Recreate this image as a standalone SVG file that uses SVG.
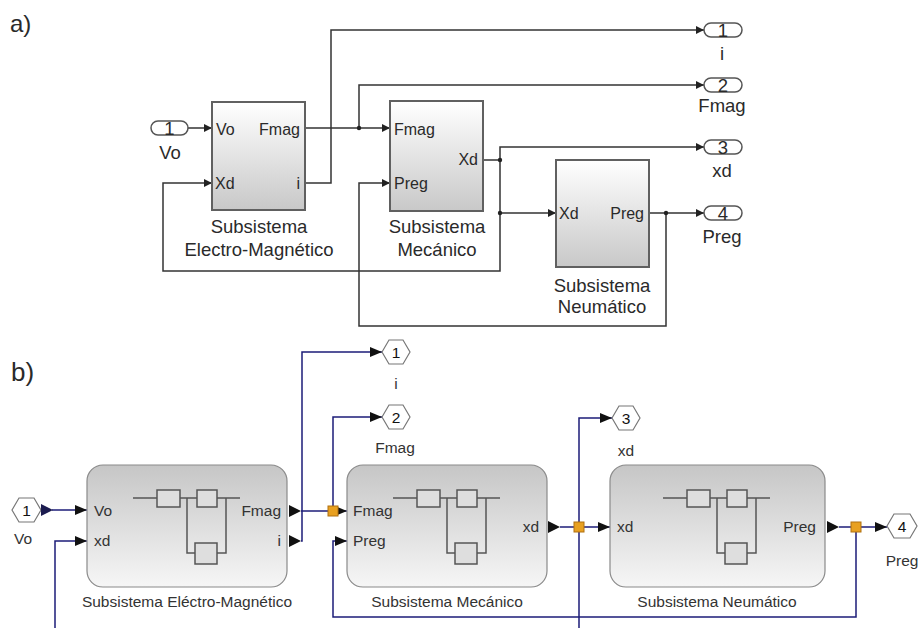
<svg xmlns="http://www.w3.org/2000/svg" width="919" height="628" viewBox="0 0 919 628">
<defs>
<linearGradient id="gA" x1="0" y1="0" x2="0" y2="1"><stop offset="0" stop-color="#ffffff"/><stop offset="1" stop-color="#c8c8c8"/></linearGradient>
<linearGradient id="gB" x1="0" y1="0" x2="0" y2="1"><stop offset="0" stop-color="#c6c6c6"/><stop offset="1" stop-color="#f6f6f6"/></linearGradient>
<marker id="ma" markerWidth="8" markerHeight="8" refX="8" refY="4" orient="auto" markerUnits="userSpaceOnUse"><path d="M0,0 L8,4 L0,8 Z" fill="#222"/></marker>
<marker id="mb" markerWidth="12" markerHeight="10" refX="12" refY="5" orient="auto" markerUnits="userSpaceOnUse"><path d="M0,0 L12,5 L0,10 Z" fill="#111"/></marker>
<g id="icon">
<path d="M-54,0 H53 M0,0 V55 H8 M30,55 H39 V0" fill="none" stroke="#555" stroke-width="1.5"/>
<rect x="-30" y="-8" width="23" height="17" fill="#dedede" stroke="#555" stroke-width="1.5"/>
<rect x="10" y="-8" width="20" height="17" fill="#dedede" stroke="#555" stroke-width="1.5"/>
<rect x="8" y="45" width="22" height="21" fill="#dedede" stroke="#555" stroke-width="1.5"/>
</g>
</defs>
<style>
text{font-family:"Liberation Sans",Arial,sans-serif;fill:#2a2a2a}
.ta{font-size:16px}
.tl{font-size:18.5px}
.tb{font-size:15.5px;fill:#333}
.blkA{fill:url(#gA);stroke:#606060;stroke-width:2}
.blkB{fill:url(#gB);stroke:#8a8a8a;stroke-width:1.2}
.wa{fill:none;stroke:#333;stroke-width:1.5}
.wb{fill:none;stroke:#1c1c78;stroke-width:1.5}
.pill{fill:#fff;stroke:#555;stroke-width:1.5}
.hex{fill:#fff;stroke:#777;stroke-width:1.2}
.jun{fill:#e8a020;stroke:#b07010;stroke-width:1}
.tri{fill:#111}
.mid{text-anchor:middle}
.end{text-anchor:end}
</style>

<text x="10" y="32" style="font-size:24px">a)</text>
<text x="11" y="381" style="font-size:26px">b)</text>

<!-- ===== a) connectors ===== -->
<g id="connectors-a">
<path class="wa" d="M188,128 H212" marker-end="url(#ma)"/>
<path class="wa" d="M305,128 H390" marker-end="url(#ma)"/>
<path class="wa" d="M359,128 V85 H704" marker-end="url(#ma)"/>
<path class="wa" d="M305,183 H331 V30 H704" marker-end="url(#ma)"/>
<path class="wa" d="M483,160 H500 V147 H704" marker-end="url(#ma)"/>
<path class="wa" d="M500,160 V213 H556" marker-end="url(#ma)"/>
<path class="wa" d="M500,213 V271 H163 V183 H212" marker-end="url(#ma)"/>
<path class="wa" d="M649,213 H704" marker-end="url(#ma)"/>
<path class="wa" d="M666,213 V326 H359 V183 H390" marker-end="url(#ma)"/>
<circle cx="359" cy="128" r="2.2" fill="#222"/>
<circle cx="500" cy="160" r="2.2" fill="#222"/>
<circle cx="500" cy="213" r="2.2" fill="#222"/>
<circle cx="666" cy="213" r="2.2" fill="#222"/>
</g>

<!-- ===== a) nodes ===== -->
<g id="a-in1">
<rect class="pill" x="151" y="121" width="37" height="14" rx="7"/>
<text class="tl mid" x="169.5" y="134.5">1</text>
<text class="tl mid" x="170" y="159">Vo</text>
</g>
<g id="a-em">
<rect class="blkA" x="212" y="102" width="93" height="108"/>
<text class="ta" x="216" y="135">Vo</text>
<text class="ta end" x="300" y="135">Fmag</text>
<text class="ta" x="215" y="189">Xd</text>
<text class="ta end" x="300" y="189">i</text>
<text class="tl mid" x="259" y="233">Subsistema</text>
<text class="tl mid" x="259" y="256">Electro-Magnético</text>
</g>
<g id="a-mec">
<rect class="blkA" x="390" y="101" width="93" height="110"/>
<text class="ta" x="394" y="135">Fmag</text>
<text class="ta end" x="478" y="165">Xd</text>
<text class="ta" x="394" y="189">Preg</text>
<text class="tl mid" x="437" y="233">Subsistema</text>
<text class="tl mid" x="437" y="256">Mecánico</text>
</g>
<g id="a-neu">
<rect class="blkA" x="556" y="160" width="93" height="107"/>
<text class="ta" x="559" y="219">Xd</text>
<text class="ta end" x="644" y="219">Preg</text>
<text class="tl mid" x="602" y="292">Subsistema</text>
<text class="tl mid" x="602" y="313">Neumático</text>
</g>
<g id="a-out1">
<rect class="pill" x="704" y="23" width="38" height="14" rx="7"/>
<text class="tl mid" x="723" y="36.5">1</text>
<text class="tl mid" x="722" y="60">i</text>
</g>
<g id="a-out2">
<rect class="pill" x="704" y="78" width="38" height="14" rx="7"/>
<text class="tl mid" x="723" y="91.5">2</text>
<text class="tl mid" x="722" y="112">Fmag</text>
</g>
<g id="a-out3">
<rect class="pill" x="704" y="140" width="38" height="14" rx="7"/>
<text class="tl mid" x="723" y="153.5">3</text>
<text class="tl mid" x="722" y="177">xd</text>
</g>
<g id="a-out4">
<rect class="pill" x="704" y="206" width="38" height="14" rx="7"/>
<text class="tl mid" x="723" y="219.5">4</text>
<text class="tl mid" x="722" y="243">Preg</text>
</g>

<!-- ===== b) connectors ===== -->
<g id="connectors-b">
<path class="wb" d="M52,510 H87" marker-end="url(#mb)"/>
<path class="wb" d="M55,628 V541 H87" marker-end="url(#mb)"/>
<path class="wb" d="M301,511 H347" marker-end="url(#mb)"/>
<path class="wb" d="M333,511 V417 H382" marker-end="url(#mb)"/>
<path class="wb" d="M301,541 H302 V352 H382" marker-end="url(#mb)"/>
<path class="wb" d="M560,527 H610" marker-end="url(#mb)"/>
<path class="wb" d="M579,628 V418 H612" marker-end="url(#mb)"/>
<path class="wb" d="M839,527 H887" marker-end="url(#mb)"/>
<path class="wb" d="M856,527 V617 H333 V541 H347" marker-end="url(#mb)"/>
<rect class="jun" x="328" y="506" width="10" height="10"/>
<rect class="jun" x="574" y="522" width="10" height="10"/>
<rect class="jun" x="851" y="522" width="10" height="10"/>
</g>

<!-- ===== b) nodes ===== -->
<g id="b-in1">
<polygon class="hex" points="12,510 19,498 34,498 41,510 34,522 19,522"/>
<text class="tb mid" x="26.5" y="516" style="fill:#111">1</text>
<path d="M41,504 L53,510 L41,516 Z" fill="#1c1c50"/>
<text class="tb mid" x="23" y="544">Vo</text>
</g>
<g id="b-em">
<rect class="blkB" x="87" y="465" width="200" height="122" rx="16"/>
<use href="#icon" x="187" y="498"/>
<text class="tb" x="94" y="516">Vo</text>
<text class="tb" x="94" y="546">xd</text>
<text class="tb end" x="281" y="516">Fmag</text>
<text class="tb end" x="281" y="546">i</text>
<path class="tri" d="M289,505 L301,511 L289,517 Z"/>
<path class="tri" d="M289,535 L301,541 L289,547 Z"/>
<text class="tb mid" x="187" y="607">Subsistema Eléctro-Magnético</text>
</g>
<g id="b-mec">
<rect class="blkB" x="347" y="465" width="200" height="122" rx="16"/>
<use href="#icon" x="447" y="498"/>
<text class="tb" x="353" y="516">Fmag</text>
<text class="tb" x="353" y="546">Preg</text>
<text class="tb end" x="539" y="532">xd</text>
<path class="tri" d="M548,521 L560,527 L548,533 Z"/>
<text class="tb mid" x="447" y="607">Subsistema Mecánico</text>
</g>
<g id="b-neu">
<rect class="blkB" x="610" y="465" width="215" height="122" rx="16"/>
<use href="#icon" x="717" y="498"/>
<text class="tb" x="617" y="532">xd</text>
<text class="tb end" x="816" y="532">Preg</text>
<path class="tri" d="M827,521 L839,527 L827,533 Z"/>
<text class="tb mid" x="717" y="607">Subsistema Neumático</text>
</g>
<g id="b-out1">
<polygon class="hex" points="382,352 389,340 403,340 410,352 403,364 389,364"/>
<text class="tb mid" x="396" y="358" style="fill:#111">1</text>
<text class="tb mid" x="396" y="389">i</text>
</g>
<g id="b-out2">
<polygon class="hex" points="382,417 389,405 403,405 410,417 403,429 389,429"/>
<text class="tb mid" x="396" y="423" style="fill:#111">2</text>
<text class="tb mid" x="395" y="453">Fmag</text>
</g>
<g id="b-out3">
<polygon class="hex" points="612,418 619,406 633,406 640,418 633,430 619,430"/>
<text class="tb mid" x="626" y="424" style="fill:#111">3</text>
<text class="tb mid" x="626" y="456">xd</text>
</g>
<g id="b-out4">
<polygon class="hex" points="887,526 894,514 910,514 917,526 910,538 894,538"/>
<text class="tb mid" x="902" y="532" style="fill:#111">4</text>
<text class="tb mid" x="902" y="566">Preg</text>
</g>
</svg>
